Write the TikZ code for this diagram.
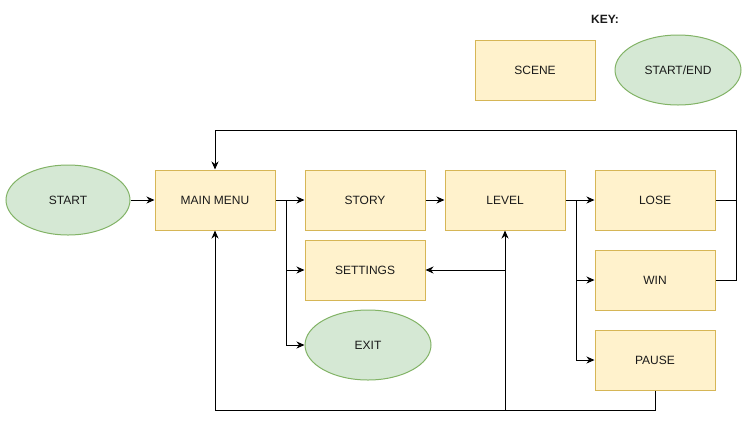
\documentclass[tikz,border=0pt]{standalone}
\usepackage{fontspec}
\setmainfont{Liberation Sans}
\usetikzlibrary{shapes.geometric,arrows.meta,calc}
\definecolor{scfill}{HTML}{FFF2CC}
\definecolor{scdraw}{HTML}{D6B656}
\definecolor{sefill}{HTML}{D5E8D4}
\definecolor{sedraw}{HTML}{82B366}
\definecolor{txt}{HTML}{1A1A1A}
\begin{document}
\begin{tikzpicture}[x=1pt,y=-1pt,
  font=\fontsize{12}{14}\selectfont,
  scenebox/.style={draw=scdraw,fill=scfill,line width=1pt,minimum width=120pt,minimum height=60pt,inner sep=0pt,text=txt},
  termnode/.style={ellipse,draw=sedraw,fill=sefill,line width=1pt,minimum width=124pt,minimum height=70pt,inner sep=0pt,text=txt},
  conn/.style={line width=1pt,black},
  arr/.style={conn,-{Stealth[length=8pt,width=7pt,inset=2.5pt]}}]
\useasboundingbox (0,0) rectangle (749,424);
% key
\node[font=\fontsize{12}{14}\selectfont\bfseries,text=txt] (key) at (605,19) {KEY:};
\node[scenebox] (scene) at (535,70) {SCENE};
\node[termnode,minimum width=126pt] (startend) at (678,70) {START/END};
% main nodes
\node[termnode] (start) at (68,200) {START};
\node[scenebox] (mm) at (215,200) {MAIN MENU};
\node[scenebox] (story) at (365,200) {STORY};
\node[scenebox] (level) at (505,200) {LEVEL};
\node[scenebox] (lose) at (655,200) {LOSE};
\node[scenebox] (settings) at (365,270) {SETTINGS};
\node[termnode,minimum width=126pt] (exit) at (368,345) {EXIT};
\node[scenebox] (win) at (655,280) {WIN};
\node[scenebox] (pause) at (655,360) {PAUSE};
% junction coordinates
\coordinate (s1) at (286,200);
\coordinate (s2) at (576,200);
\coordinate (rt) at (736,130);
\coordinate (bot) at (pause.south |- 0,410);
% connectors
\draw[arr] (start.east) -- (mm.west);
\draw[arr] (mm.east) -- (story.west);
\draw[arr] (s1) |- (settings.west);
\draw[arr] (s1) |- (exit.west);
\draw[arr] (story.east) -- (level.west);
\draw[arr] (level.east) -- (lose.west);
\draw[arr] (s2) |- (win.west);
\draw[arr] (s2) |- (pause.west);
\draw[arr] (lose.east) -| (rt) -| (mm.north);
\draw[conn] (win.east) -| ($(lose.east)+(21,0)$);
\draw[arr] (pause.south) -- (bot) -| (mm.south);
\draw[arr] (bot -| level.south) -- (level.south);
\draw[arr] (level.south |- settings.east) -- (settings.east);
\end{tikzpicture}
\end{document}
